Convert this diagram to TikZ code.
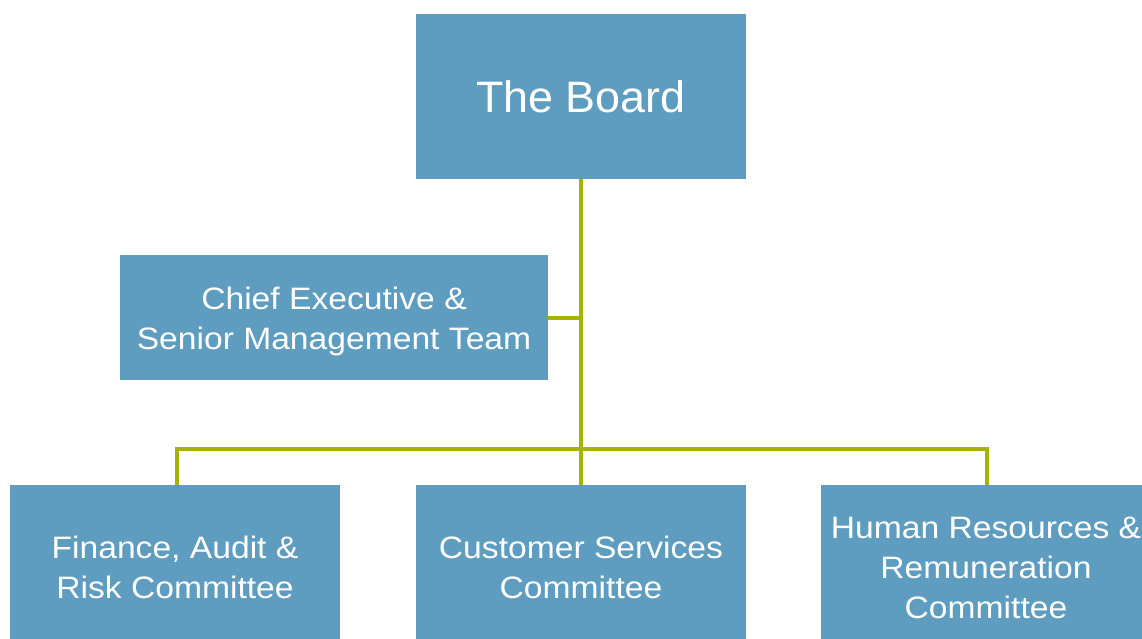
\documentclass[tikz,border=0pt]{standalone}
\usepackage{fontspec}
\setmainfont{Liberation Sans}
\newfontfamily\widesans[FakeStretch=1.085]{Liberation Sans}
\usepackage{tikz}
\usetikzlibrary{calc}

\definecolor{boxblue}{HTML}{5E9DC0}
\definecolor{linkgreen}{HTML}{A6B400}

\begin{document}
\begin{tikzpicture}[
    x=1pt, y=-1pt,
    box/.style={fill=boxblue, draw=none, minimum width=330pt, minimum height=165pt, align=center, text=white, font=\widesans\fontsize{31}{40}\selectfont, inner sep=0pt},
    link/.style={draw=linkgreen, line width=4pt}
]
\useasboundingbox (0,0) rectangle (1142,639);
\clip (0,0) rectangle (1142,639);

\node[box, font=\fontsize{44}{52}\selectfont\addfontfeature{FakeStretch=1.02}] (board) at (581,96.5) {The Board};
\node[box, minimum width=428pt, minimum height=125pt] (ceo) at (334,317.5) {\rule{0pt}{31pt}Chief Executive \&\\Senior Management Team};
\node[box] (finance) at (175,567.5) {Finance, Audit \&\\Risk Committee};
\node[box] (customer) at (581,567.5) {Customer Services\\Committee};
\node[box] (hr) at (986,567.5) {Human Resources \&\\Remuneration\\Committee};

% bus line the committees hang from
\coordinate (bus) at (581,449);
\coordinate (busL) at (177,449);
\coordinate (busR) at (987,449);

\draw[link] (board.south) -- (bus);
\draw[link] (ceo.east) -- (ceo.east -| board.south);
\draw[link, line cap=rect] (busL) -- (busR);
\draw[link] (busL) -- (busL |- finance.north);
\draw[link] (bus) -- (customer.north);
\draw[link] (busR) -- (busR |- hr.north);
\end{tikzpicture}
\end{document}
